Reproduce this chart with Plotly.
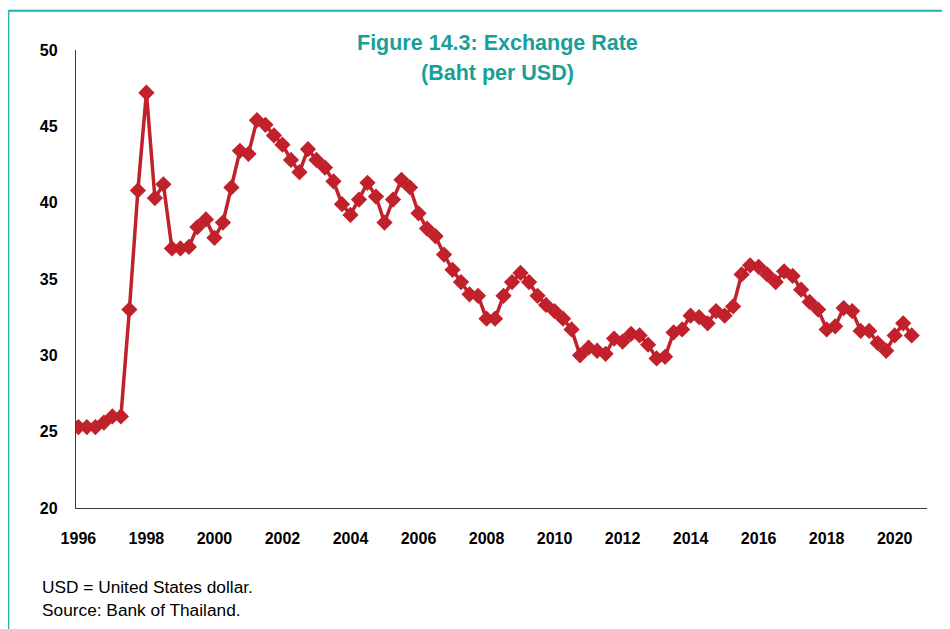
import plotly.graph_objects as go

# ---- data (quarterly averages, Baht per USD) ----
start_year = 1996
quarters_per_year = 4
baht_per_usd = [
    25.3, 25.3, 25.3, 25.6, 26.0, 26.0, 33.0, 40.8,   # 1996-1997
    47.2, 40.3, 41.2, 37.0, 37.0, 37.1, 38.4, 38.9,   # 1998-1999
    37.7, 38.7, 41.0, 43.4, 43.2, 45.4, 45.1, 44.4,   # 2000-2001
    43.8, 42.8, 42.0, 43.5, 42.8, 42.3, 41.4, 39.9,   # 2002-2003
    39.2, 40.2, 41.3, 40.4, 38.7, 40.2, 41.5, 41.0,   # 2004-2005
    39.3, 38.3, 37.8, 36.6, 35.6, 34.8, 34.0, 33.9,   # 2006-2007
    32.4, 32.4, 33.9, 34.8, 35.4, 34.8, 33.9, 33.3,   # 2008-2009
    32.9, 32.4, 31.7, 30.0, 30.5, 30.3, 30.1, 31.1,   # 2010-2011
    30.9, 31.4, 31.3, 30.7, 29.8, 29.9, 31.5, 31.7,   # 2012-2013
    32.6, 32.5, 32.1, 32.9, 32.6, 33.2, 35.3, 35.9,   # 2014-2015
    35.8, 35.3, 34.8, 35.5, 35.2, 34.3, 33.5, 33.0,   # 2016-2017
    31.7, 31.9, 33.1, 32.9, 31.6, 31.6, 30.8, 30.3,   # 2018-2019
    31.3, 32.1, 31.3,                                 # 2020
]
periods = [f"{start_year + k // quarters_per_year}Q{k % quarters_per_year + 1}"
           for k in range(len(baht_per_usd))]
x_vals = [int(p[:4]) + (int(p[-1]) - 1) / quarters_per_year for p in periods]

year_ticks = list(range(1996, 2021, 2))
year_labels = [str(y) for y in year_ticks]
y_ticks = [20, 25, 30, 35, 40, 45, 50]

title_line1 = "Figure 14.3: Exchange Rate"
title_line2 = "(Baht per USD)"
note1 = "USD = United States dollar."
note2 = "Source: Bank of Thailand."

# ---- layout geometry (page has an 8px body offset) ----
OFF = 8
W, H = 950, 629
ML, MT = 76 - OFF, 50 - OFF
MR = W - (927 - OFF)
MB = H - (508 - OFF)
PW = W - ML - MR
PH = H - MT - MB

def px(x):  # screen pixel x -> paper
    return (x - OFF - ML) / PW

def py(y):  # screen pixel y -> paper
    return (H - MB - (y - OFF)) / PH

RED = "#c0212b"
TEAL = "#189f99"
BORDER = "#1cb3ab"
FONT = "Liberation Sans, Arial, sans-serif"

fig = go.Figure()
fig.add_trace(go.Scatter(
    x=x_vals, y=baht_per_usd, mode="lines+markers",
    line=dict(color=RED, width=3.5),
    marker=dict(symbol="diamond", size=12.5, color=RED),
    text=periods, hoverinfo="text+y", showlegend=False,
))

fig.update_layout(
    width=W, height=H,
    margin=dict(l=ML, r=MR, t=MT, b=MB),
    paper_bgcolor="white", plot_bgcolor="white",
    font=dict(family=FONT, color="black"),
    xaxis=dict(
        range=[1995.93, 2020.95], tickvals=year_ticks, ticktext=year_labels,
        showline=True, linecolor="#3a3a3a", linewidth=1.3,
        showgrid=False, zeroline=False, ticks="",
        tickfont=dict(family=FONT, size=16, weight="bold", color="black"),
        ticklabelstandoff=16,
    ),
    yaxis=dict(
        range=[20, 50], tickvals=y_ticks,
        showline=True, linecolor="#3a3a3a", linewidth=1.3,
        showgrid=False, zeroline=False, ticks="",
        tickfont=dict(family=FONT, size=16, weight="bold", color="black"),
        ticklabelstandoff=14,
    ),
    shapes=[
        dict(type="line", xref="paper", yref="paper",
             x0=px(8.3), x1=px(W + 20), y0=py(10.7), y1=py(10.7),
             line=dict(color=BORDER, width=2)),
        dict(type="line", xref="paper", yref="paper",
             x0=px(8.3), x1=px(8.3), y0=py(10.7), y1=py(H + 20),
             line=dict(color=BORDER, width=2)),
    ],
    annotations=[
        dict(text=f"<b>{title_line1}</b>", xref="paper", yref="paper",
             x=px(497), y=py(43), xanchor="center", yanchor="middle",
             showarrow=False, font=dict(family=FONT, size=21.5, color=TEAL)),
        dict(text=f"<b>{title_line2}</b>", xref="paper", yref="paper",
             x=px(497), y=py(73), xanchor="center", yanchor="middle",
             showarrow=False, font=dict(family=FONT, size=21.5, color=TEAL)),
        dict(text=note1, xref="paper", yref="paper",
             x=px(40), y=py(587), xanchor="left", yanchor="middle",
             showarrow=False, font=dict(family=FONT, size=17.3, color="black")),
        dict(text=note2, xref="paper", yref="paper",
             x=px(40), y=py(610), xanchor="left", yanchor="middle",
             showarrow=False, font=dict(family=FONT, size=17.3, color="black")),
    ],
)

fig.write_html("out.html")
